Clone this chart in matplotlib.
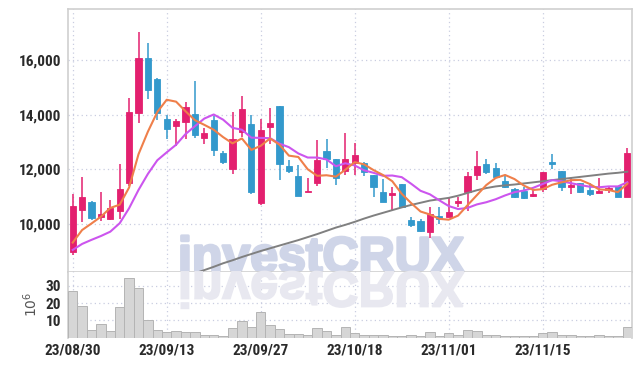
import numpy as np
import matplotlib
matplotlib.use("Agg")
import matplotlib.pyplot as plt
import matplotlib.patheffects as pe
from matplotlib.textpath import TextPath
from matplotlib.patches import PathPatch
from matplotlib.font_manager import FontProperties
from matplotlib.transforms import Affine2D, IdentityTransform

# ---------------- data ----------------
opens = [8980, 10520, 10800, 10230, 10180, 10480, 11510, 14080, 16090, 15310,
         13850, 13570, 13750, 14030, 13160, 13810, 12600, 12000, 13360, 13660,
         10750, 13540, 14320, 12120, 11750, 11160, 11490, 12670, 12370, 11940,
         12220, 12220, 11790, 11180, 11060, 11460, 10120, 10100, 9690, 10290,
         10240, 10760, 11180, 11780, 12200, 12040, 11570, 11270, 11200, 11030,
         11270, 12260, 11940, 11360, 11490, 11240, 11140, 11240, 11390, 11000]
highs = [11090, 11700, 10840, 11160, 10860, 12180, 14600, 17040, 16620, 15340,
         13980, 13830, 14480, 15230, 13500, 13960, 12680, 14110, 14670, 13990,
         13850, 14260, 14320, 12340, 12160, 11670, 13080, 13100, 12370, 13340,
         12950, 12280, 11790, 11630, 11360, 11460, 10240, 10160, 10630, 10630,
         10940, 11000, 11910, 12680, 12370, 12240, 11750, 11300, 11360, 11270,
         11910, 12560, 11940, 11670, 11490, 11490, 11670, 11360, 11390, 12770]
lows = [8860, 10050, 10130, 10100, 10140, 10190, 11400, 13690, 14590, 13810,
        13100, 12860, 13100, 13160, 12930, 12490, 12180, 11830, 13200, 11090,
        10690, 12930, 11610, 11880, 11030, 11160, 11390, 12040, 11420, 11790,
        11790, 11770, 10970, 10810, 10470, 10570, 9870, 9680, 9470, 9980,
        10240, 10600, 10450, 11610, 11820, 11730, 11300, 10940, 10920, 10970,
        11160, 12010, 11220, 11090, 11140, 11030, 11140, 11140, 11000, 11000]
closes = [10650, 10990, 10210, 10340, 10570, 11270, 14100, 16090, 14890, 14080,
          13490, 13770, 14270, 13240, 13330, 12720, 12280, 13100, 14200, 11180,
          13430, 13690, 12210, 11930, 11030, 11200, 12340, 12370, 11670, 12370,
          12530, 11890, 11360, 10810, 11120, 10630, 9940, 9750, 10360, 10160,
          10430, 10800, 11750, 12120, 11910, 11730, 11360, 11000, 10960, 11090,
          11890, 12210, 11360, 11420, 11180, 11090, 11200, 11280, 11000, 12590]
volumes = [27.0, 18.3, 4.5, 7.9, 3.9, 17.6, 34.3, 28.5, 10.2, 4.2,
           3.3, 3.9, 3.3, 3.1, 1.6, 1.6, 1.0, 5.4, 9.7, 6.4,
           14.9, 7.3, 5.0, 1.9, 2.3, 1.6, 5.6, 3.9, 1.6, 6.0,
           2.5, 1.4, 1.4, 1.4, 1.0, 1.2, 1.6, 0.8, 3.3, 1.0,
           2.5, 1.7, 4.2, 3.6, 1.6, 1.4, 1.0, 1.0, 0.8, 0.8,
           2.7, 3.1, 1.6, 1.4, 1.0, 1.0, 1.4, 1.0, 0.8, 6.0]
ma_short = [9310, 9770, 10010, 10260, 10580, 10700, 11330, 12550, 13380, 14100,
            14550, 14480, 14130, 13800, 13630, 13450, 13180, 12950, 13130, 12710,
            12860, 13130, 12900, 12500, 12450, 12000, 11760, 11780, 11730, 11980,
            12260, 12180, 11970, 11790, 11560, 11100, 10760, 10450, 10340, 10180,
            10150, 10300, 10680, 11050, 11420, 11680, 11790, 11640, 11400, 11240,
            11270, 11430, 11520, 11600, 11610, 11460, 11260, 11240, 11160, 11470]
ma_mid = [9040, 9260, 9410, 9550, 9710, 10020, 10570, 11240, 11830, 12330,
          12620, 12900, 13290, 13580, 13860, 14010, 13820, 13520, 13450, 13160,
          13150, 13140, 12940, 12810, 12580, 12430, 12430, 12360, 12110, 12220,
          12140, 11960, 11870, 11760, 11770, 11710, 11470, 11210, 11080, 10860,
          10650, 10540, 10580, 10710, 10790, 10900, 11040, 11160, 11220, 11320,
          11460, 11600, 11560, 11490, 11420, 11360, 11340, 11370, 11370, 11520]
ma_long = [np.nan] * 12 + [
    8050, 8180, 8300, 8420, 8550, 8660, 8780, 8890,
    9000, 9100, 9200, 9300, 9400, 9510, 9620, 9740, 9860, 9960,
    10070, 10190, 10300, 10400, 10500, 10600, 10690, 10770, 10850, 10900,
    10950, 11030, 11130, 11230, 11310, 11370, 11410, 11440, 11480, 11520,
    11560, 11600, 11640, 11680, 11720, 11760, 11800, 11840, 11870, 11910]
tick_labels = ["23/08/30", "23/09/13", "23/09/27", "23/10/18", "23/11/01", "23/11/15"]
tick_index = [0, 10, 20, 30, 40, 50]
price_ticks = [10000, 12000, 14000, 16000]
vol_ticks = [10, 20, 30]

# ---------------- style ----------------
RED = "#e3206f"
BLUE = "#3399cc"
GRID = "#c9cde0"
SPINE = "#cfcfcf"
LABEL_FONT = ["Roboto Condensed", "Roboto", "DejaVu Sans"]
LABEL_SIZE = 11

W, H = 642, 366
fig = plt.figure(figsize=(W / 100, H / 100), dpi=100)

def frac(l, t, r, b):
    return [l / W, 1 - b / H, (r - l) / W, (b - t) / H]

ax = fig.add_axes(frac(68, 9, 632, 272))
axv = fig.add_axes(frac(68, 272, 632, 337.7), sharex=ax)

x = np.arange(len(closes))
o = np.array(opens, float)
c = np.array(closes, float)
hi = np.array(highs, float)
lo = np.array(lows, float)
up = c >= o
cols = np.where(up, RED, BLUE)

ax.vlines(x, lo, hi, colors=cols, linewidth=1.1, zorder=3)
body_bottom = np.minimum(o, c)
body_h = np.maximum(np.abs(c - o), 60)
ax.bar(x, body_h, bottom=body_bottom, width=0.64, color=cols,
       edgecolor=cols, linewidth=0.6, zorder=4)

ax.plot(x, ma_long, color="#808080", lw=1.4, zorder=5)
ax.plot(x, ma_mid, color="#cc55ee", lw=1.5, zorder=5)
ax.plot(x, ma_short, color="#ef7f4a", lw=1.5, zorder=5)

ax.set_xlim(-0.5, 59.5)
ax.set_ylim(8230, 17880)
ax.set_yticks(price_ticks)
ax.set_yticklabels([f"{v:,}" for v in price_ticks])
ax.grid(True, color=GRID, linestyle=(0, (1, 2.5)), linewidth=0.9)
ax.set_axisbelow(True)
ax.tick_params(axis="x", labelbottom=False, length=0)
ax.tick_params(axis="y", length=0, pad=5, labelsize=LABEL_SIZE, labelcolor="#2a2a2a")
for lab in ax.get_yticklabels():
    lab.set_fontfamily(LABEL_FONT)
    lab.set_fontweight("bold")

# volume
axv.bar(x, volumes, width=1.0, color="#d6d6d6", edgecolor="#b4b4b4",
        linewidth=0.7, zorder=3)
axv.set_ylim(0, 38)
axv.set_yticks(vol_ticks)
axv.set_xticks(tick_index)
axv.set_xticklabels(tick_labels)
axv.grid(True, color=GRID, linestyle=(0, (1, 2.5)), linewidth=0.9)
axv.set_axisbelow(True)
axv.tick_params(length=0, labelsize=LABEL_SIZE, labelcolor="#2a2a2a")
axv.tick_params(axis="y", pad=5)
axv.tick_params(axis="x", pad=4)
for lab in axv.get_yticklabels() + axv.get_xticklabels():
    lab.set_fontfamily(LABEL_FONT)
    lab.set_fontweight("bold")
axv.set_ylabel(r"$10^6$", fontsize=10, color="#555555", labelpad=4)

for a in (ax, axv):
    for s in a.spines.values():
        s.set_color(SPINE)
        s.set_linewidth(1.2)
axv.spines["bottom"].set_visible(False)
axv.spines["top"].set_visible(False)

# watermark
wm_fp = FontProperties(family=["Liberation Sans", "DejaVu Sans"], weight="bold")
wm_size = 36
ax.text(178 / W, 1 - 272 / H, "investCRUX", transform=fig.transFigure,
        fontproperties=wm_fp, fontsize=wm_size, color="#cfd5e8",
        ha="left", va="baseline", zorder=1, clip_on=False,
        path_effects=[pe.withStroke(linewidth=2.0, foreground="#cfd5e8")])
tp = TextPath((0, 0), "investCRUX", size=wm_size * 100 / 72, prop=wm_fp)
refl = PathPatch(tp, transform=Affine2D().scale(1, -1).translate(178, H - 272)
                 + IdentityTransform(),
                 facecolor="#e8e8f0", edgecolor="#e8e8f0", linewidth=1.4,
                 zorder=1, clip_on=False)
axv.add_artist(refl)

fig.savefig("out.png", dpi=100)
